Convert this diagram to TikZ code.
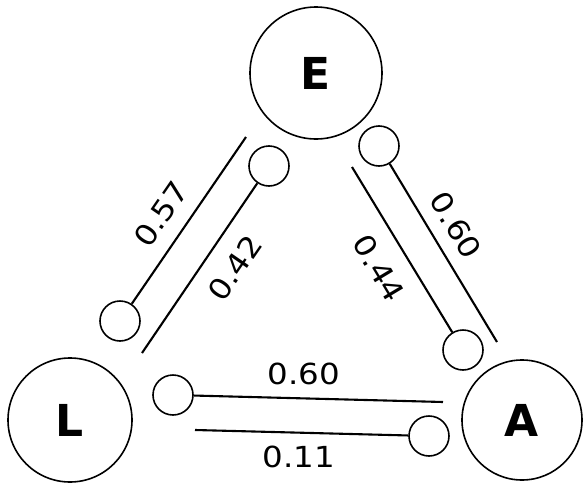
\documentclass[tikz,border=0pt]{standalone}
\usepackage{fontspec}
\setmainfont{DejaVu Sans}
\begin{document}
\begin{tikzpicture}[x=1pt,y=-1pt,
  big/.style={circle,draw,line width=1.6pt,inner sep=0pt,font=\bfseries\fontsize{44}{46}\selectfont},
  small/.style={circle,draw,line width=1.6pt,minimum size=40pt,inner sep=0pt},
  link/.style={line width=2.1pt},
  lab/.style={font=\addfontfeature{FakeStretch=1.12}\fontsize{29}{31}\selectfont,inner sep=0pt}]
\useasboundingbox (0,0) rectangle (584,490);
% main circles
\node[big,minimum size=132pt] (E) at (316,73) {E};
\node[big,minimum size=124pt] (L) at (70,420) {L};
\node[big,minimum size=120pt] (A) at (522,420) {A};
% small circles
\node[small] (s1) at (120,321) {};
\node[small] (s2) at (269,166) {};
\node[small] (s3) at (379,146) {};
\node[small] (s4) at (463,350) {};
\node[small] (s5) at (173,395) {};
\node[small] (s6) at (429,436) {};
% free ends
\coordinate (c1) at (246,137);
\coordinate (c2) at (142,353);
\coordinate (c3) at (497,342);
\coordinate (c4) at (352,167);
\coordinate (c5) at (443,402);
\coordinate (c6) at (195,430);
% connectors
\draw[link] (s1) -- (c1);
\draw[link] (s2) -- (c2);
\draw[link] (s3) -- (c3);
\draw[link] (s4) -- (c4);
\draw[link] (s5) -- (c5);
\draw[link] (s6) -- (c6);
% labels
\node[lab,rotate=55.5] (l1) at (161,214) {0.57};
\node[lab,rotate=55.5] (l2) at (235,268) {0.42};
\node[lab,rotate=-59] (l3) at (456,225) {0.60};
\node[lab,rotate=-59] (l4) at (379,268) {0.44};
\node[lab] (l5) at (304,374) {0.60};
\node[lab] (l6) at (299,457) {0.11};
\end{tikzpicture}
\end{document}
